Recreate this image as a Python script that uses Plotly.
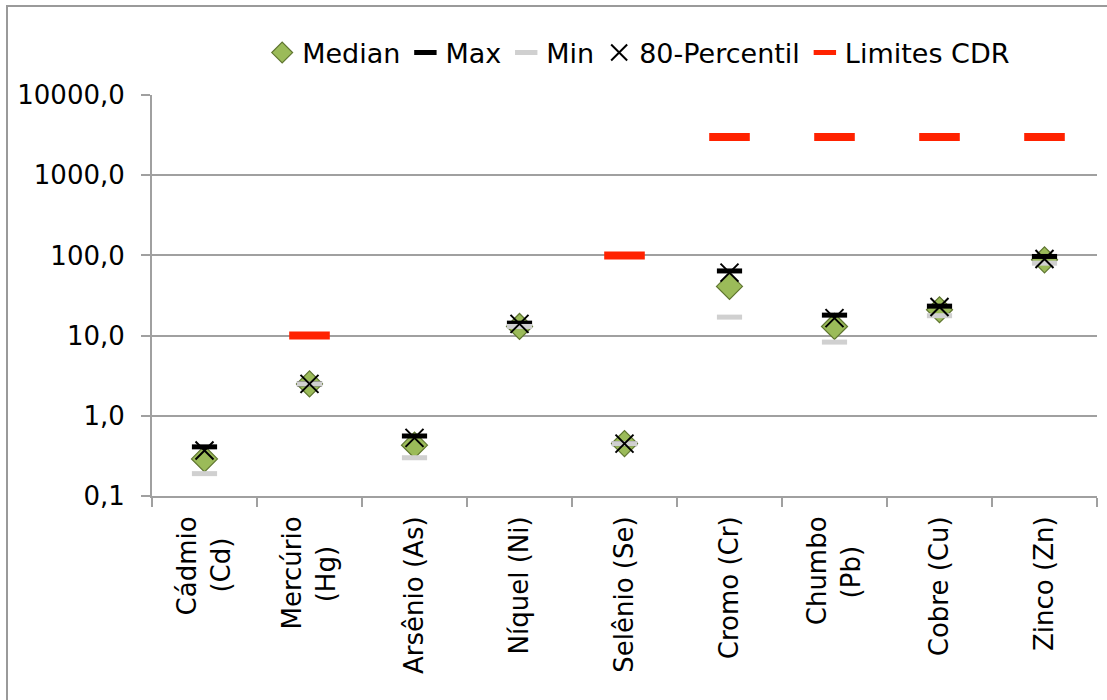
import plotly.graph_objects as go

NB = "\u00a0"
EN = "\u2002"
categories = ["Cádmio<br>(Cd)" + NB + EN, "Mercúrio<br>(Hg)" + NB + NB + EN, "Arsênio (As)",
              "Níquel (Ni)", "Selênio (Se)", "Cromo (Cr)", "Chumbo<br>(Pb)" + NB + NB + EN,
              "Cobre (Cu)", "Zinco (Zn)"]
median = [0.29, 2.5, 0.43, 13.0, 0.45, 41.0, 13.0, 21.0, 88.0]
max_vals = [0.41, 2.5, 0.56, 14.3, 0.45, 64.0, 18.0, 23.3, 97.0]
min_vals = [0.19, 2.5, 0.30, 13.0, 0.45, 17.0, 8.3, 17.7, 80.0]
p80 = [0.37, 2.5, 0.53, 14.0, 0.45, 61.0, 16.5, 22.7, 90.0]
limits = [None, 10.0, None, None, 100.0, 3000.0, 3000.0, 3000.0, 3000.0]

tick_vals = [0.1, 1, 10, 100, 1000, 10000]
tick_text = ["0,1", "1,0", "10,0", "100,0", "1000,0", "10000,0"]

FONT = "DejaVu Sans"
GRID = "#A0A0A0"

fig = go.Figure()
fig.add_trace(go.Scatter(
    x=categories, y=median, mode="markers", name="Median",
    marker=dict(symbol="diamond", size=20, color="#9BBB59",
                line=dict(color="#5F7530", width=1.2))))
fig.add_trace(go.Scatter(
    x=categories, y=max_vals, mode="markers", name="Max",
    marker=dict(symbol="line-ew", size=18, color="#000000",
                line=dict(color="#000000", width=5))))
fig.add_trace(go.Scatter(
    x=categories, y=min_vals, mode="markers", name="Min",
    marker=dict(symbol="line-ew", size=18, color="#D0D0D0",
                line=dict(color="#D0D0D0", width=5))))
fig.add_trace(go.Scatter(
    x=categories, y=p80, mode="markers", name="80-Percentil",
    marker=dict(symbol="x-thin", size=18, color="#000000",
                line=dict(color="#000000", width=2))))
fig.add_trace(go.Scatter(
    x=categories, y=limits, mode="markers", name="Limites CDR",
    marker=dict(symbol="line-ew", size=29, color="#FF2200",
                line=dict(color="#FF2200", width=8))))

L, R, T, B = 152, 10, 95, 204
W, H = 1107, 700
pw, ph = W - L - R, H - T - B

fig.add_shape(type="rect", xref="paper", yref="paper",
              x0=(7 - L) / pw, x1=(W + 30 - L) / pw,
              y0=(H - B - (H + 30)) / ph, y1=(H - B - 6) / ph,
              line=dict(color="#9A9A9A", width=2), fillcolor="rgba(0,0,0,0)",
              layer="below")

fig.update_layout(
    width=W, height=H,
    margin=dict(l=L, r=R, t=T, b=B, autoexpand=False),
    paper_bgcolor="white", plot_bgcolor="white",
    font=dict(family=FONT, size=26, color="#000000"),
    showlegend=True,
    legend=dict(orientation="h", x=0.515, xanchor="center",
                y=(H - B - 53) / ph, yanchor="middle",
                font=dict(family=FONT, size=27, color="#000000"),
                itemwidth=30, tracegroupgap=0,
                bgcolor="rgba(0,0,0,0)"),
    xaxis=dict(type="category", showgrid=False, showline=True, automargin=False,
               linecolor=GRID, linewidth=2, ticks="outside",
               tickson="boundaries", ticklen=9, tickcolor=GRID, tickwidth=2,
               tickangle=-90, ticklabelstandoff=8,
               tickfont=dict(family=FONT, size=26, color="#000000"),
               range=[-0.5, 8.5]),
    yaxis=dict(type="log", range=[-1, 4], tickvals=tick_vals, ticktext=tick_text,
               showgrid=True, gridcolor=GRID, gridwidth=2, automargin=False,
               showline=True, linecolor=GRID, linewidth=2,
               ticks="outside", ticklen=9, tickcolor=GRID, tickwidth=2,
               ticklabelstandoff=11, zeroline=False,
               tickfont=dict(family=FONT, size=26, color="#000000")),
)

fig.write_html("out.html", config={"displayModeBar": False},
               post_script="document.body.style.margin='0';document.body.style.overflow='hidden';")
